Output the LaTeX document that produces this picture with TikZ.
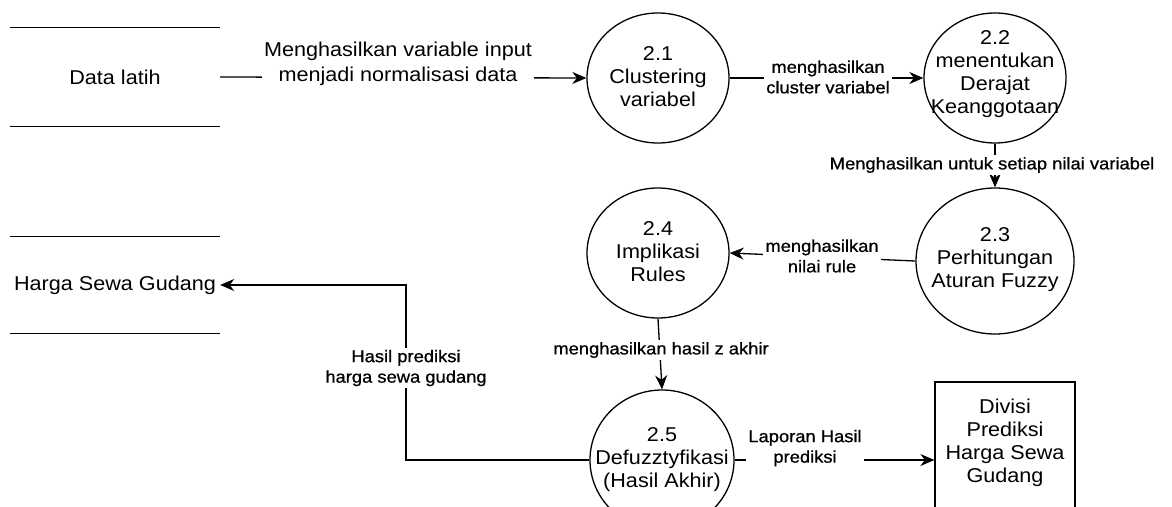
\documentclass[tikz,border=0pt]{standalone}
\usepackage{fontspec}
\setmainfont{Liberation Sans}[FakeStretch=1.08]
\newfontfamily\lblfont{Liberation Sans}[FakeStretch=1.08,FakeBold=0.8]
\usetikzlibrary{arrows.meta,shapes.geometric}

\begin{document}
\begin{tikzpicture}[x=1pt,y=-1pt,
  every node/.style={inner sep=0pt},
  ln/.style={line width=1.3pt,black},
  flow/.style={ln,-{Stealth[length=14pt,width=12pt,inset=4.5pt]}},
  proc/.style={ellipse,draw,line width=1.3pt,minimum width=142pt,minimum height=130pt},
  ptext/.style={align=center,font=\fontsize{20}{23}\selectfont},
  store/.style={minimum width=210pt,font=\fontsize{20}{23}\selectfont},
  biglbl/.style={fill=white,align=center,inner sep=2pt,font=\fontsize{20}{25}\selectfont},
  lbl/.style={fill=white,align=center,inner sep=2pt,font=\lblfont\fontsize{17}{20.5}\selectfont},
]
\clip (0,0) rectangle (1172,506);
\fill[white] (0,0) rectangle (1172,506);

% data stores
\node[store,minimum height=98pt] (ds1) at (115,77) {Data latih};
\draw[ln] (ds1.north west) -- (ds1.north east);
\draw[ln] (ds1.south west) -- (ds1.south east);

\node[store,minimum height=96pt] (ds2) at (115,285) {Harga Sewa Gudang};
\draw[ln] (ds2.north west) -- (ds2.north east);
\draw[ln] (ds2.south west) -- (ds2.south east);

% processes
\node[proc] (c21) at (658,78) {};
\node[ptext] (t21) at (658,77) {2.1\\Clustering\\variabel};

\node[proc] (c22) at (995,78) {};
\node[ptext] (t22) at (995,74) {2.2\\menentukan\\Derajat\\Keanggotaan};

\node[proc,minimum width=158pt,minimum height=146pt] (c23) at (995,261) {};
\node[ptext] (t23) at (995,260) {2.3\\Perhitungan\\Aturan Fuzzy};

\node[proc] (c24) at (658,253) {};
\node[ptext] (t24) at (658,252) {2.4\\Implikasi\\Rules};

\node[proc,minimum width=144pt,minimum height=140pt] (c25) at (662,460) {};
\node[ptext] (t25) at (662,460) {2.5\\Defuzztyfikasi\\(Hasil Akhir)};

% external entity
\node[draw,line width=1.3pt,minimum width=140pt,minimum height=156pt] (ent) at (1005,460) {};
\node[ptext] (tent) at (1005,443) {Divisi\\Prediksi\\Harga Sewa\\Gudang};

% flows
\draw[flow] (ds1.east) -- (c21.west);
\node[biglbl] (l1) at (398,64) {Menghasilkan variable input\\menjadi normalisasi data};

\draw[flow] (c21.east) -- (c22.west);
\node[lbl] (l2) at (828,77) {menghasilkan\\cluster variabel};

\draw[flow] (c22.south) -- (c23.north);
\node[lbl] (l3) at (992,165) {Menghasilkan untuk setiap nilai variabel};

\draw[flow] (c23.west) -- (c24.east);
\node[lbl] (l4) at (822,256) {menghasilkan\\nilai rule};

\draw[flow] (c24.south) -- (c25.north);
\node[lbl] (l5) at (661,350) {menghasilkan hasil z akhir};

\coordinate (bend) at (406,0);
\draw[flow] (c25.west) -| (bend |- ds2.east) -- (ds2.east);
\node[lbl] (l6) at (406,368) {Hasil prediksi\\harga sewa gudang};

\draw[flow] (c25.east) -- (ent.west);
\node[lbl] (l7) at (805,448) {Laporan Hasil\\prediksi};
\end{tikzpicture}
\end{document}
